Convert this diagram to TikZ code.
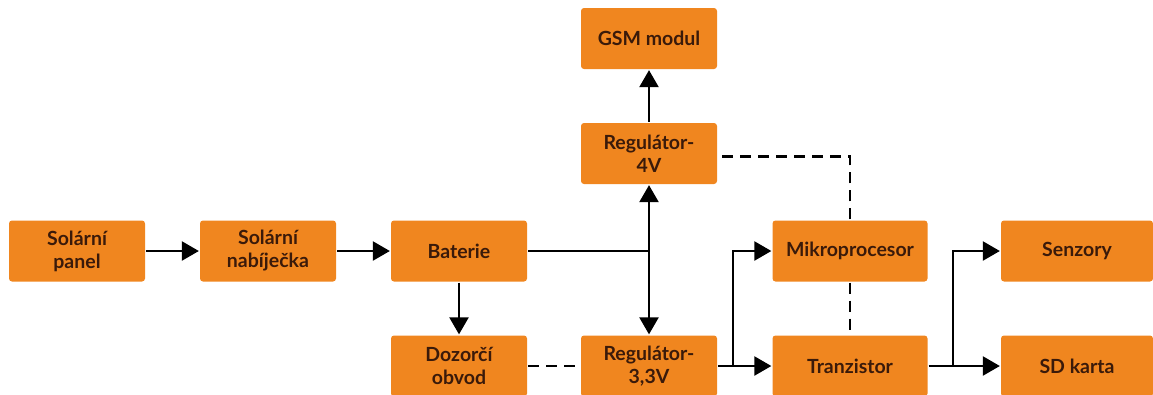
\documentclass[tikz,border=0pt]{standalone}
\usepackage{fontspec}
\setmainfont{Lato}
\usepackage{tikz}
\usetikzlibrary{arrows.meta}

\definecolor{boxorange}{HTML}{F0861F}
\definecolor{boxtext}{HTML}{3A1A0A}

\begin{document}
\begin{tikzpicture}[x=1pt, y=-1pt,
	every node/.style={font=\fontsize{19.5}{23}\selectfont\bfseries, text=boxtext},
	blok/.style={fill=boxorange, rounded corners=3pt, minimum width=136pt, minimum height=61pt, align=center, inner sep=2pt},
	>={Triangle[length=17pt, width=19pt]}, line width=2.3pt]
	\useasboundingbox (0,0) rectangle (1153,394);
	\node[blok] (panel) at (77,251) {Solární\\panel};
	\node[blok] (charger) at (268,251) {Solární\\nabíječka};
	\node[blok] (bat) at (459,251) {Baterie};
	\node[blok] (mon) at (459,366) {Dozorčí\\obvod};
	\node[blok] (gsm) at (649,38.5) {GSM modul};
	\node[blok] (reg4) at (649,153.5) {Regulátor-\\4V};
	\node[blok] (reg33) at (649,366) {Regulátor-\\3,3V};
	\node[blok, minimum width=155pt] (mcu) at (850,251) {Mikroprocesor};
	\node[blok, minimum width=155pt] (tr) at (850,366) {Tranzistor};
	\node[blok, minimum width=152pt] (sens) at (1077,251) {Senzory};
	\node[blok, minimum width=152pt] (sd) at (1077,366) {SD karta};
	\coordinate (split1) at (733,366);
	\coordinate (split2) at (953,366);
	\draw[->] (panel) -- (charger);
	\draw[->] (charger) -- (bat);
	\draw[->] (bat) -- (mon);
	\draw (bat) -- (bat -| reg4);
	\draw[<->] (reg4) -- (reg33);
	\draw[->] (reg4) -- (gsm);
	\draw[dash pattern=on 11pt off 7pt] (mon) -- (reg33);
	\draw[->] (reg33) -- (tr);
	\draw[->] (split1) |- (mcu);
	\draw[dash pattern=on 11pt off 7pt] (mcu.north) |- ([yshift=-3pt]reg4.east);
	\draw[dash pattern=on 11pt off 7pt] (mcu) -- (tr);
	\draw[->] (tr) -- (sd);
	\draw[->] (split2) |- (sens);
\end{tikzpicture}
\end{document}
